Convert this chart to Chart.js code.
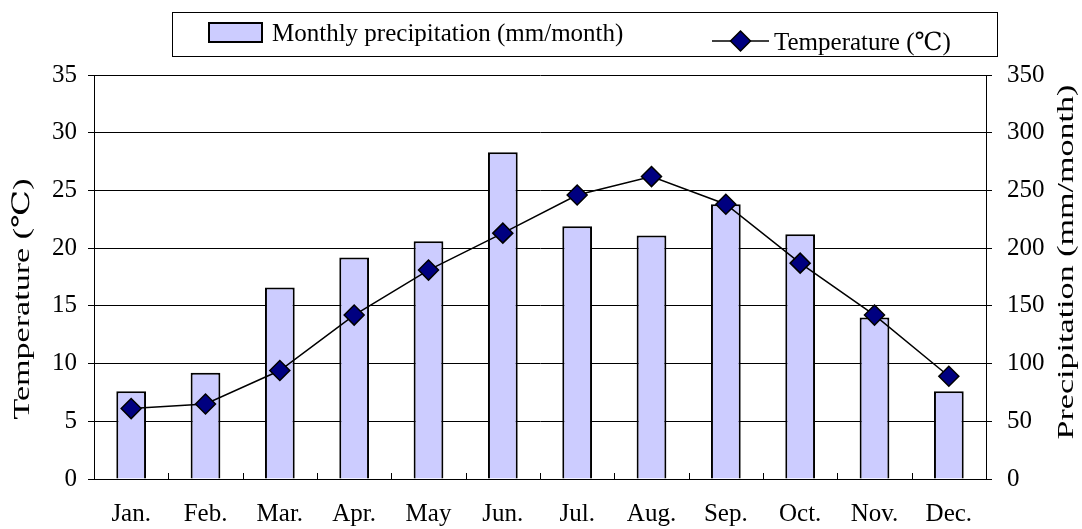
<!DOCTYPE html>
<html>
<head>
<meta charset="utf-8">
<script src="https://cdn.jsdelivr.net/npm/chart.js@4.4.0/dist/chart.umd.min.js"></script>
<style>
  html, body { margin: 0; padding: 0; background: #fff; }
  #wrap { width: 1082px; height: 529px; position: relative; }
</style>
</head>
<body>
<div id="wrap"><canvas id="chart"></canvas></div>
<script>
// data
const months = ['Jan.', 'Feb.', 'Mar.', 'Apr.', 'May', 'Jun.', 'Jul.', 'Aug.', 'Sep.', 'Oct.', 'Nov.', 'Dec.'];
const precipitation = [76, 92, 166, 192, 206, 283, 219, 211, 238, 212, 140, 76];
const temperature = [6.1, 6.5, 9.4, 14.2, 18.1, 21.3, 24.6, 26.2, 23.8, 18.7, 14.2, 8.9];
const tempTicks = [0, 5, 10, 15, 20, 25, 30, 35];
const precipTicks = [0, 50, 100, 150, 200, 250, 300, 350];

const precipLabel = 'Monthly precipitation (mm/month)';
const tempLabel = 'Temperature (\u2103)';
const leftTitle = 'Temperature (\u2103)';
const rightTitle = 'Precipitation (mm/month)';

const FONT = '"Liberation Serif", "Times New Roman", "DejaVu Serif", serif';
const BAR_FILL = '#ccccff';
const MARKER_FILL = '#000080';

// small tick marks pointing up between categories, like the original
const xTickMarks = {
    id: 'xTickMarks',
    afterDatasetsDraw(chart) {
        const x = chart.scales.x;
        const ctx = chart.ctx;
        const bottom = chart.chartArea.bottom;
        ctx.save();
        ctx.strokeStyle = '#000';
        ctx.lineWidth = 1;
        for (let i = 1; i < months.length; i++) {
            const px = Math.round((x.getPixelForTick(i - 1) + x.getPixelForTick(i)) / 2) + 0.5;
            ctx.beginPath();
            ctx.moveTo(px, bottom);
            ctx.lineTo(px, bottom - 6);
            ctx.stroke();
        }
        ctx.restore();
    }
};

// axis titles, both read bottom to top; the original stretches them along the text
const axisTitles = {
    id: 'axisTitles',
    afterDraw(chart) {
        const ctx = chart.ctx;
        const area = chart.chartArea;
        const midY = (area.top + area.bottom) / 2;
        ctx.save();
        ctx.fillStyle = '#000';
        ctx.font = '24px ' + FONT;
        ctx.textAlign = 'center';
        ctx.textBaseline = 'middle';
        [[23, midY + 22, leftTitle], [chart.width - 15, midY - 15, rightTitle]].forEach(([x, y, text]) => {
            ctx.save();
            ctx.translate(x, y);
            ctx.rotate(-Math.PI / 2);
            ctx.scale(1.42, 1);
            ctx.fillText(text, 0, 0);
            ctx.restore();
        });
        ctx.restore();
    }
};

// boxed legend across the top
const boxLegend = {
    id: 'boxLegend',
    afterDraw(chart) {
        const ctx = chart.ctx;
        ctx.save();
        ctx.strokeStyle = '#000';
        ctx.lineWidth = 1;
        ctx.strokeRect(172.5, 12.5, 825, 44);

        // bar swatch
        ctx.fillStyle = BAR_FILL;
        ctx.fillRect(209, 23, 53, 19);
        ctx.lineWidth = 2;
        ctx.strokeRect(209, 23, 53, 19);

        ctx.font = '25px ' + FONT;
        ctx.fillStyle = '#000';
        ctx.textBaseline = 'alphabetic';
        ctx.fillText(precipLabel, 272, 41);

        // line + diamond swatch
        ctx.lineWidth = 1.5;
        ctx.beginPath();
        ctx.moveTo(712, 41);
        ctx.lineTo(769, 41);
        ctx.stroke();
        ctx.beginPath();
        ctx.moveTo(740.5, 31);
        ctx.lineTo(750.5, 41);
        ctx.lineTo(740.5, 51);
        ctx.lineTo(730.5, 41);
        ctx.closePath();
        ctx.fillStyle = MARKER_FILL;
        ctx.fill();
        ctx.stroke();

        ctx.fillStyle = '#000';
        ctx.fillText(tempLabel, 774, 50);
        ctx.restore();
    }
};

new Chart(document.getElementById('chart'), {
    data: {
        labels: months,
        datasets: [
            {
                type: 'line',
                label: tempLabel,
                data: temperature,
                yAxisID: 'y',
                borderColor: '#000',
                borderWidth: 1.5,
                pointStyle: 'rectRot',
                pointRadius: 10,
                pointBackgroundColor: MARKER_FILL,
                pointBorderColor: '#000',
                pointBorderWidth: 1.5,
                tension: 0,
                order: 0
            },
            {
                type: 'bar',
                label: precipLabel,
                data: precipitation,
                yAxisID: 'y1',
                backgroundColor: BAR_FILL,
                borderColor: '#000',
                borderWidth: 2,
                barPercentage: 0.4,
                categoryPercentage: 1.0,
                order: 1
            }
        ]
    },
    plugins: [xTickMarks, axisTitles, boxLegend],
    options: {
        responsive: true,
        maintainAspectRatio: false,
        animation: false,
        layout: { padding: { top: 75, left: 0, right: 0, bottom: 0 } },
        plugins: {
            legend: { display: false },
            tooltip: { enabled: false }
        },
        scales: {
            x: {
                grid: { display: false, drawTicks: false },
                border: { display: true, color: '#000', width: 1 },
                ticks: {
                    color: '#000',
                    font: { family: FONT, size: 25 },
                    padding: 20,
                    maxRotation: 0,
                    autoSkip: false
                },
                afterFit(scale) { scale.height = 50; }
            },
            y: {
                position: 'left',
                min: 0,
                max: 35,
                afterBuildTicks(scale) { scale.ticks = tempTicks.map(v => ({ value: v })); },
                grid: {
                    color: '#000',
                    lineWidth: 1,
                    drawTicks: true,
                    tickLength: 6,
                    tickColor: '#000'
                },
                border: { display: true, color: '#000', width: 1 },
                ticks: {
                    color: '#000',
                    font: { family: FONT, size: 25 },
                    padding: 11
                },
                afterFit(scale) { scale.width = 94; }
            },
            y1: {
                position: 'right',
                min: 0,
                max: 350,
                afterBuildTicks(scale) { scale.ticks = precipTicks.map(v => ({ value: v })); },
                grid: {
                    drawOnChartArea: false,
                    drawTicks: true,
                    tickLength: 6,
                    tickColor: '#000'
                },
                border: { display: true, color: '#000', width: 1 },
                ticks: {
                    color: '#000',
                    font: { family: FONT, size: 25 },
                    padding: 15
                },
                afterFit(scale) { scale.width = 96; }
            }
        }
    }
});
</script>
</body>
</html>
